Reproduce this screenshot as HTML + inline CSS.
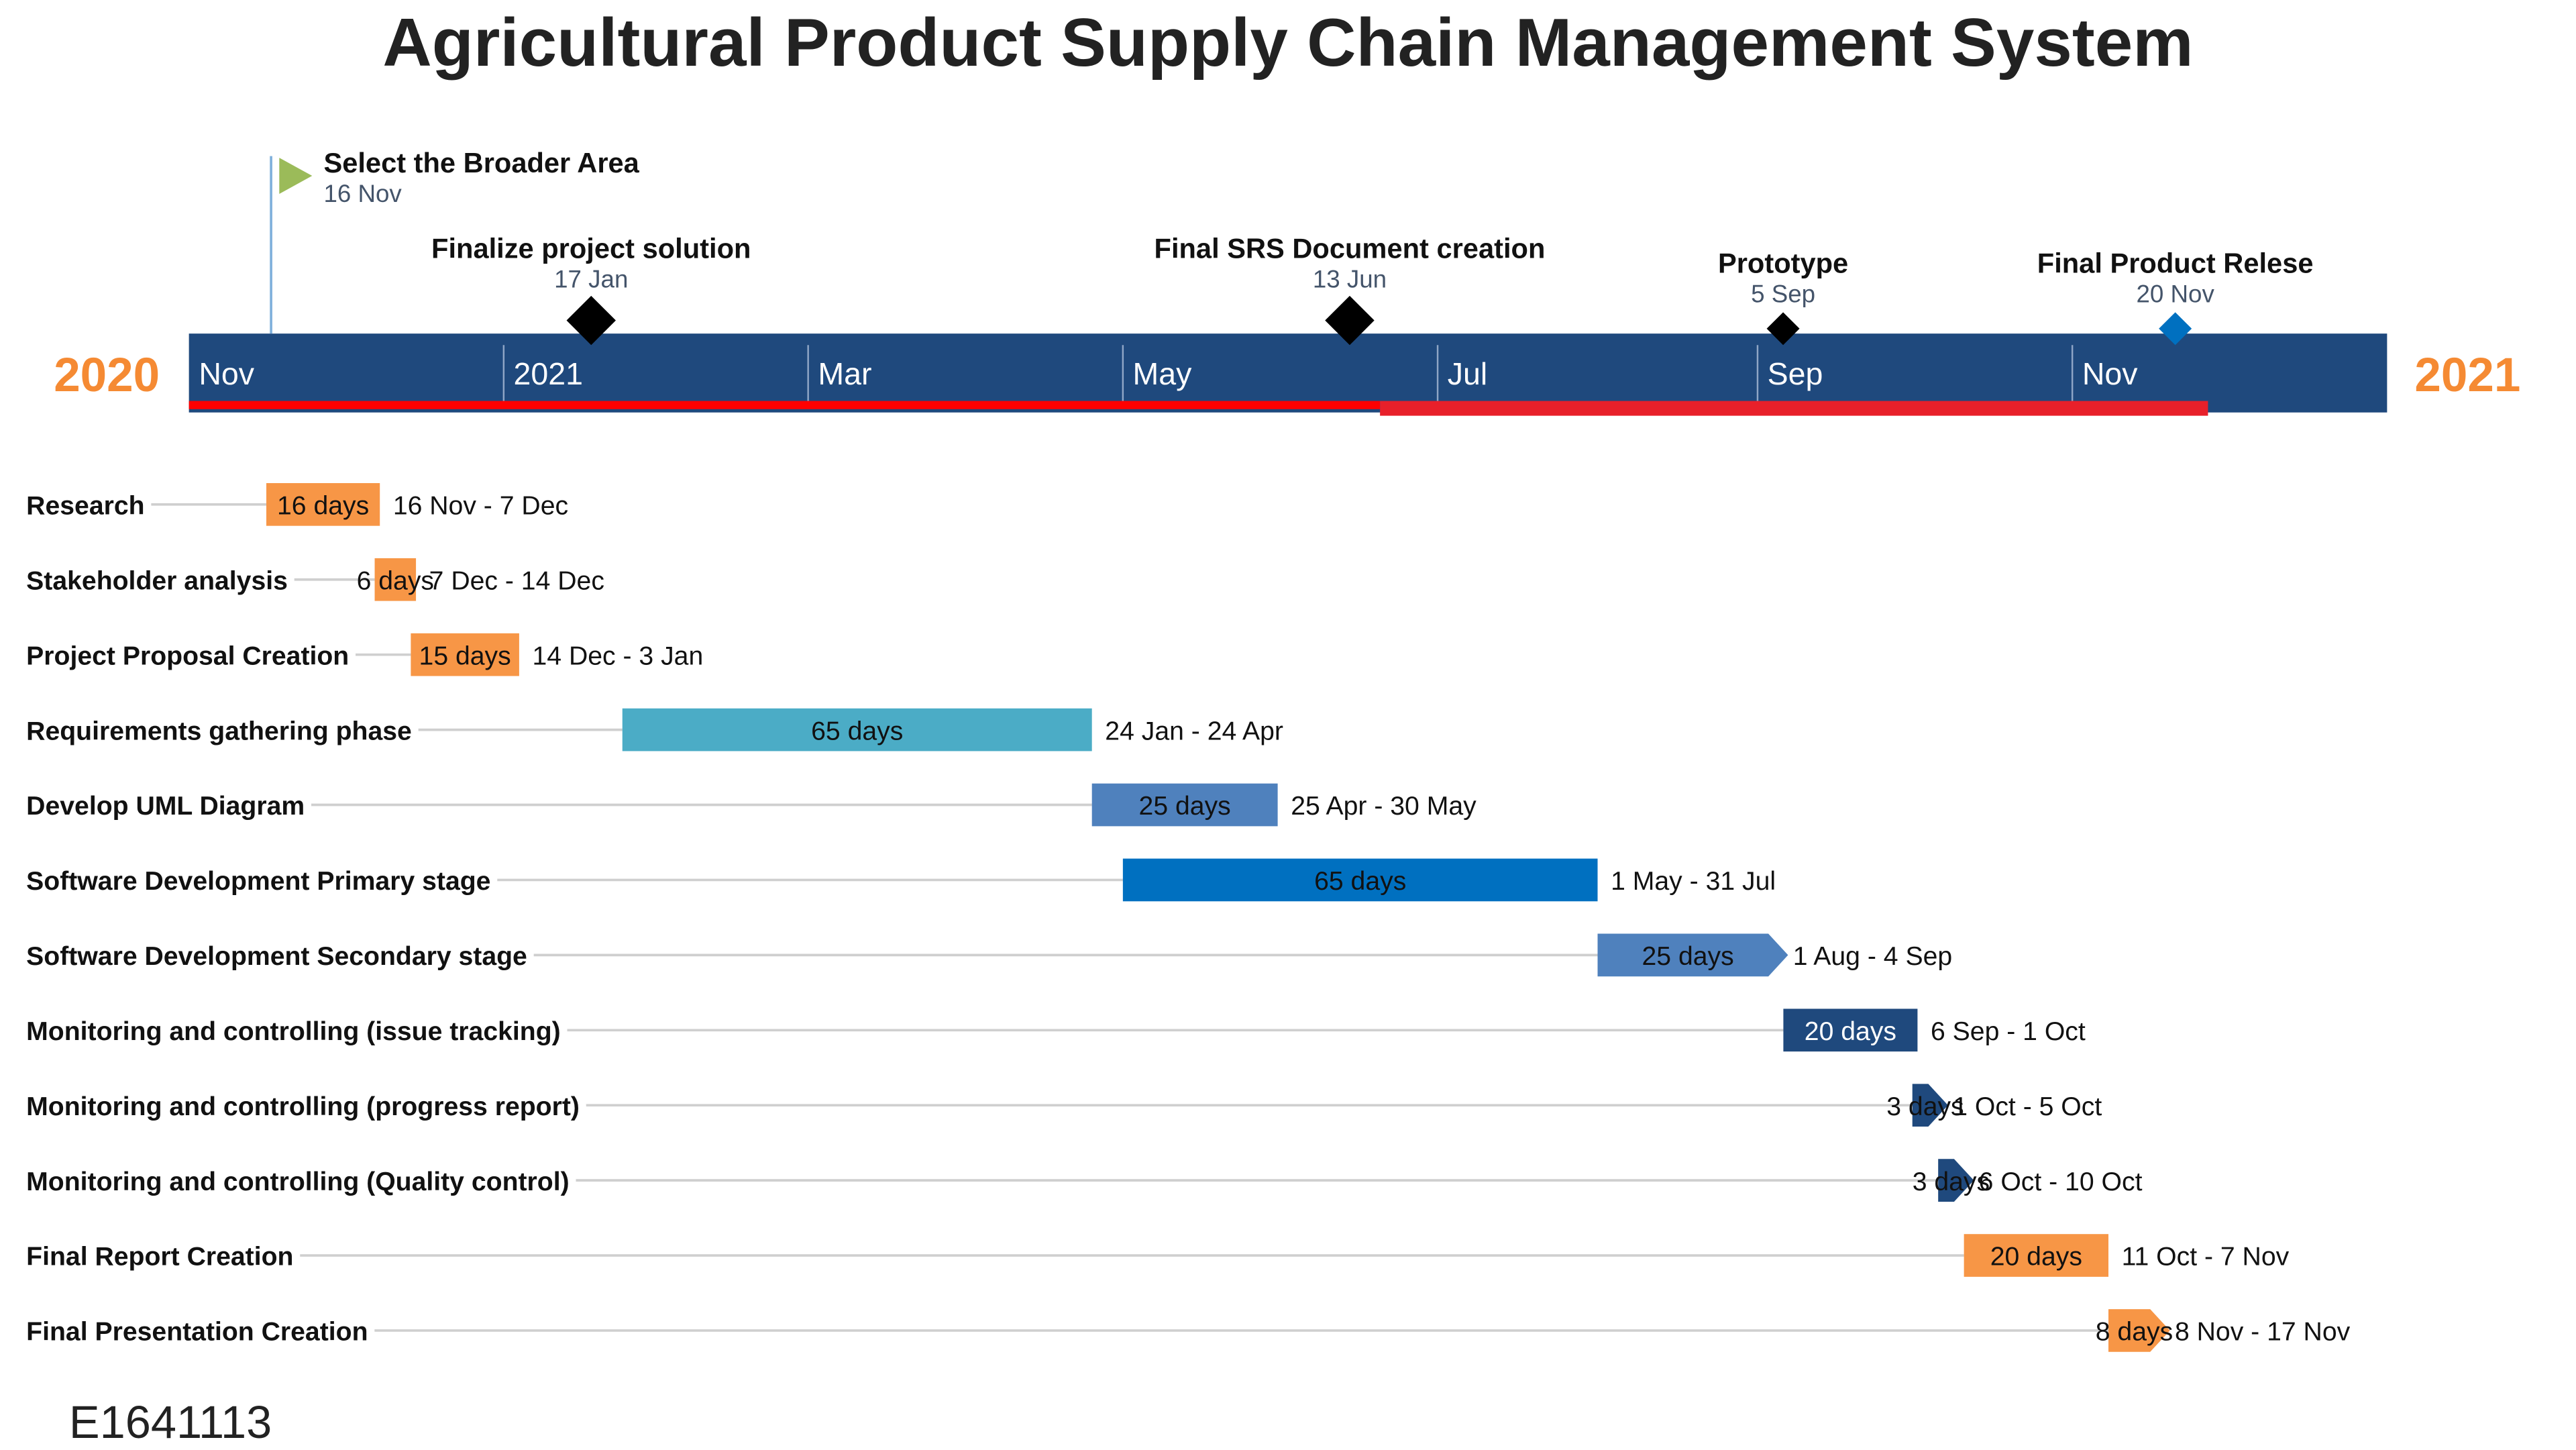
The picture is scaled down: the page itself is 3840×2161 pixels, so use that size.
<!DOCTYPE html>
<html><head><meta charset="utf-8">
<style>
html,body{margin:0;padding:0;background:#fff;}
svg{display:block;font-family:"Liberation Sans",Arial,sans-serif;}
</style></head>
<body>
<svg id="chart" width="3840" height="2161" viewBox="0 0 1568 882.4" xmlns="http://www.w3.org/2000/svg">
<rect x="0" y="0" width="1568" height="882.4" fill="#fff"/>
<text x="784" y="40" text-anchor="middle" font-size="41.5" font-weight="bold" fill="#222">Agricultural Product Supply Chain Management System</text>
<g id="timeline"></g>
<g id="milestones"></g>
<g id="tasks"></g>
<text x="42" y="875" font-size="28" fill="#222">E1641113</text>
</svg>
<script>
const taskNames = ["Research","Stakeholder analysis","Project Proposal Creation","Requirements gathering phase","Develop UML Diagram","Software Development Primary stage","Software Development Secondary stage","Monitoring and controlling (issue tracking)","Monitoring and controlling (progress report)","Monitoring and controlling (Quality control)","Final Report Creation","Final Presentation Creation"];
const taskStarts = ["2020-11-16","2020-12-07","2020-12-14","2021-01-24","2021-04-25","2021-05-01","2021-08-01","2021-09-06","2021-10-01","2021-10-06","2021-10-11","2021-11-08"];
const taskEnds = ["2020-12-07","2020-12-14","2021-01-03","2021-04-24","2021-05-30","2021-07-31","2021-09-04","2021-10-01","2021-10-05","2021-10-10","2021-11-07","2021-11-17"];
const taskDurations = ["16 days","6 days","15 days","65 days","25 days","65 days","25 days","20 days","3 days","3 days","20 days","8 days"];
const taskRanges = ["16 Nov - 7 Dec","7 Dec - 14 Dec","14 Dec - 3 Jan","24 Jan - 24 Apr","25 Apr - 30 May","1 May - 31 Jul","1 Aug - 4 Sep","6 Sep - 1 Oct","1 Oct - 5 Oct","6 Oct - 10 Oct","11 Oct - 7 Nov","8 Nov - 17 Nov"];
const taskColors = ["#f79646","#f79646","#f79646","#4bacc6","#4f81bd","#0070c0","#4f81bd","#1f497d","#1f497d","#1f497d","#f79646","#f79646"];
const taskArrow = [false,false,false,false,false,false,true,false,true,true,false,true];

const msNames = ["Select the Broader Area","Finalize project solution","Final SRS Document creation","Prototype","Final Product Relese"];
const msDates = ["2020-11-16","2021-01-17","2021-06-13","2021-09-05","2021-11-20"];
const msLabels = ["16 Nov","17 Jan","13 Jun","5 Sep","20 Nov"];

const monthLabels = ["Nov","2021","Mar","May","Jul","Sep","Nov"];
const monthDates = ["2020-11-01","2021-01-01","2021-03-01","2021-05-01","2021-07-01","2021-09-01","2021-11-01"];

const NS="http://www.w3.org/2000/svg";
const origin=Date.UTC(2020,10,1), axisEnd=Date.UTC(2022,0,1);
const X0=115, X1=1453;
function dayOf(s){const p=s.split('-').map(Number);return (Date.UTC(p[0],p[1]-1,p[2])-origin)/86400000;}
const totalDays=(axisEnd-origin)/86400000;
function xScale(d){return X0+(X1-X0)*d/totalDays;}
function mk(tag,attrs,parent,text){const e=document.createElementNS(NS,tag);for(const k in attrs)e.setAttribute(k,attrs[k]);if(text!==undefined)e.textContent=text;parent.appendChild(e);return e;}

const tl=document.getElementById('timeline');
let e=mk('rect',{x:X0,y:203,width:X1-X0,height:48,fill:'#1f497d'},tl);


e=mk('rect',{x:X0,y:244,width:840-X0,height:5,fill:'#ff0000'},tl);


e=mk('rect',{x:840,y:244,width:1344-840,height:9,fill:'#e8202a'},tl);


monthLabels.forEach((m,i)=>{
  const x=xScale(dayOf(monthDates[i]));
  if(i>0){const l=mk('line',{x1:x,y1:210,x2:x,y2:244,stroke:'#8fa6c6','stroke-width':1},tl);
  
  }
  const t=mk('text',{x:x+6,y:234,'font-size':19,fill:'#fff'},tl,m);
  
  
});
e=mk('text',{x:65,y:238,'text-anchor':'middle','font-size':29,'font-weight':'bold',fill:'#f58a33'},tl,'2020');


e=mk('text',{x:1502,y:238,'text-anchor':'middle','font-size':29,'font-weight':'bold',fill:'#f58a33'},tl,'2021');



const ms=document.getElementById('milestones');
const msY=[0,195,195,200,200];
const msTitleY=[0,157,157,166,166];
msNames.forEach((n,i)=>{
  const x=xScale(dayOf(msDates[i]))+3;
  if(i===0){
    let l=mk('line',{x1:165,y1:95,x2:165,y2:203,stroke:'#7fb0dc','stroke-width':1.5},ms);
    
    
    let f=mk('polygon',{points:`170,96 190,107 170,118`,fill:'#9bbb59'},ms);
    
    
    let t=mk('text',{x:197,y:105,'font-size':17,'font-weight':'bold',fill:'#111'},ms,n);
    
    
    t=mk('text',{x:197,y:123,'font-size':15,fill:'#44546a'},ms,msLabels[i]);
    
    
    return;
  }
  const big=i<3, s=big?15:10, y=msY[i];
  const d=mk('polygon',{points:`${x},${y-s} ${x+s},${y} ${x},${y+s} ${x-s},${y}`,fill:i===4?'#0070c0':'#000'},ms);
  
  
  let t=mk('text',{x:x,y:msTitleY[i],'text-anchor':'middle','font-size':17,'font-weight':'bold',fill:'#111'},ms,n);
  
  
  t=mk('text',{x:x,y:msTitleY[i]+18,'text-anchor':'middle','font-size':15,fill:'#44546a'},ms,msLabels[i]);
  
  
});

const tg=document.getElementById('tasks');
taskNames.forEach((n,i)=>{
  const cy=307+i*45.7;
  const xs=xScale(dayOf(taskStarts[i])), xe=xScale(dayOf(taskEnds[i])+1);
  const lab=mk('text',{x:16,y:cy+6,'font-size':16,'font-weight':'bold',fill:'#111'},tg,n);
  
  
  const lw=lab.getComputedTextLength?lab.getComputedTextLength():n.length*8;
  const g=mk('line',{x1:16+lw+4,y1:cy,x2:xs,y2:cy,stroke:'#cfcfcf','stroke-width':1.5},tg);
  
  
  let bar;
  const h=13;
  if(taskArrow[i]){
    const tip=Math.min(12,(xe-xs)*0.5+6);
    bar=mk('polygon',{points:`${xs},${cy-h} ${xe-tip+6},${cy-h} ${xe+6},${cy} ${xe-tip+6},${cy+h} ${xs},${cy+h}`,fill:taskColors[i]},tg);
  } else {
    bar=mk('rect',{x:xs,y:cy-h,width:xe-xs,height:2*h,fill:taskColors[i]},tg);
  }
  
  
  const dt=mk('text',{x:(xs+xe)/2,y:cy+6,'text-anchor':'middle','font-size':16,fill:(taskColors[i]==='#1f497d'&&!taskArrow[i])?'#fff':'#111'},tg,taskDurations[i]);
  if(taskColors[i]==='#0070c0'||taskColors[i]==='#4f81bd'||taskColors[i]==='#4bacc6') dt.setAttribute('fill','#111');
  
  
  const rt=mk('text',{x:xe+(taskArrow[i]?9:8),y:cy+6,'font-size':16,fill:'#111'},tg,taskRanges[i]);
  
  
});
</script>
</body></html>
